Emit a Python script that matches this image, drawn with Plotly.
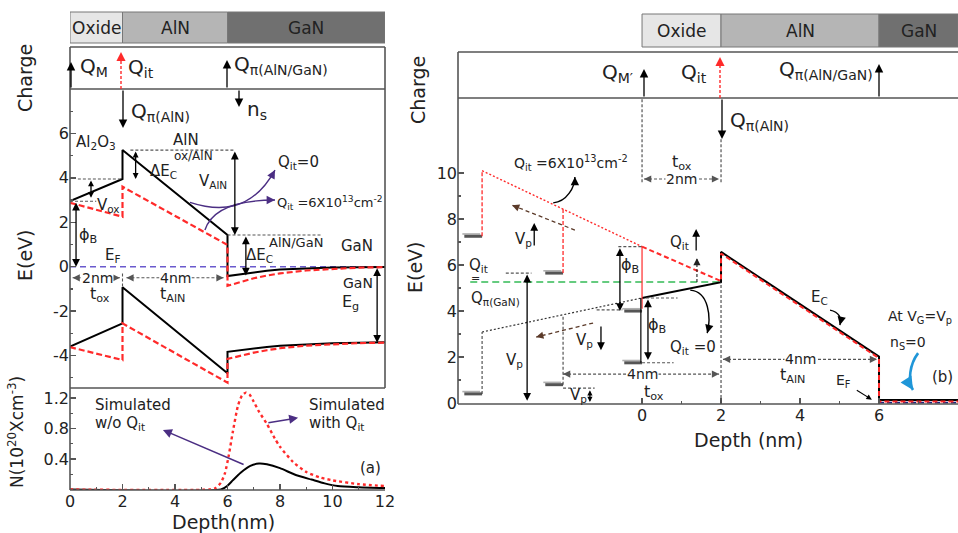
import math
import plotly.graph_objects as go

W, H = 958, 533
FONT = "DejaVu Sans"
TXT = "#222222"
RED = "#ff2a2a"
PURPLE = "#4b2e83"
GUIDE = "#555555"
BROWN = "#5b3a29"
BLUE = "#1f96d8"

# ---------------- panel (a): band diagram (depth nm, energy eV) ----------------
A_DEPTH = [0, 2, 2, 6, 6, 6.5, 7, 7.5, 8, 9, 10, 11, 12]
A_EC_NOQIT = [2.95, 3.95, 5.25, 1.43, -0.42, -0.33, -0.25, -0.18, -0.13, -0.07, -0.04, -0.02, -0.01]
A_EC_QIT = [2.88, 2.25, 3.60, 0.98, -0.86, -0.68, -0.52, -0.40, -0.30, -0.17, -0.09, -0.04, -0.02]
A_EV_NOQIT = [-3.60, -2.55, -0.92, -4.80, -3.83, -3.75, -3.67, -3.61, -3.56, -3.49, -3.45, -3.42, -3.40]
A_EV_QIT = [-3.62, -4.20, -2.55, -5.22, -4.15, -4.00, -3.87, -3.76, -3.67, -3.55, -3.48, -3.44, -3.42]
A_EF_DEPTH = [0, 12]
A_EF = [0, 0]

# ---------------- panel (a): electron density (1e20 cm^-3) ----------------
N_DEPTH_QIT = [0, 5.3, 5.55, 5.75, 5.9, 6.05, 6.2, 6.4, 6.55, 6.7, 6.85, 7.0, 7.2, 7.5, 7.8, 8.0,
               8.5, 9.0, 9.5, 10, 11, 12]
N_QIT = [0, 0, 0.02, 0.09, 0.21, 0.45, 0.75, 1.10, 1.23, 1.27, 1.24, 1.15, 1.02, 0.86, 0.67, 0.56,
         0.36, 0.23, 0.16, 0.12, 0.07, 0.045]
N_DEPTH_NOQIT = [0, 5.75, 6.0, 6.2, 6.5, 6.87, 7.2, 7.5, 8.0, 8.6, 9.2, 9.7, 10.2, 11, 12]
N_NOQIT = [0, 0, 0.05, 0.12, 0.22, 0.31, 0.34, 0.33, 0.28, 0.19, 0.13, 0.08, 0.045, 0.03, 0.02]

# ---------------- panel (b): band diagram at pinch-off ----------------
B_DEPTH = [0, 2, 2, 6, 6, 8]
B_EC_NOQIT = [4.57, 5.25, 6.57, 2.02, 0.13, 0.13]
B_EC_QIT = [6.80, 5.30, 6.50, 1.95, 0.07, 0.07]
B_GATE_DEPTH = [-4.05, 0]
B_EC_QIT_GATE = [10.10, 6.80]
B_EC_NOQIT_GATE = [3.09, 4.57]
B_QPI_DEPTH = [-4.35, 2]
B_QPI_LEVEL = [5.26, 5.26]
B_EF_DEPTH = [6, 8]
B_EF = [0.02, 0.02]
B_METAL_DEPTH = [-4.05, -4.05, -2.0, -2.0, 0.0, 0.0]
B_METAL_E = [7.25, 0.40, 5.65, 0.80, 4.00, 1.75]

LAYERS = ["Oxide", "AlN", "GaN"]
LAYER_EDGES_A = [0, 2, 6, 12]
LAYER_EDGES_B = [0, 2, 6, 8]
LAYER_COLORS = ["#e6e6e6", "#b5b5b5", "#707070"]

A = ("x", "y")
N = ("x2", "y2")
B = ("x3", "y3")
SC = {"x": 26.25, "y": 22.2, "x2": 26.25, "y2": 76.3, "x3": 39.5, "y3": 23.0}

shapes = []
annots = []


def PX(x):
    return x / W


def PY(y):
    return 1 - y / H


def pline(x0, y0, x1, y1, color=GUIDE, width=1.6, dash="solid"):
    shapes.append(dict(type="line", xref="paper", yref="paper", x0=PX(x0), y0=PY(y0),
                       x1=PX(x1), y1=PY(y1), line=dict(color=color, width=width, dash=dash)))


def dline(ax, x0, y0, x1, y1, color=GUIDE, width=1.1, dash="3px,2px"):
    shapes.append(dict(type="line", xref=ax[0], yref=ax[1], x0=x0, y0=y0, x1=x1, y1=y1,
                       line=dict(color=color, width=width, dash=dash)))


def darrow(ax, x0, y0, x1, y1, color="black", width=1.3, both=False, size=1.2):
    annots.append(dict(xref=ax[0], yref=ax[1], axref=ax[0], ayref=ax[1], x=x1, y=y1, ax=x0, ay=y0,
                       showarrow=True, arrowhead=2, arrowsize=size, arrowwidth=width,
                       arrowcolor=color, arrowside="end+start" if both else "end",
                       startarrowhead=2, startarrowsize=size, text="", standoff=0))


def head(ax, x, y, dx, dy, color="black", size=1.2, width=1.2, plen=7):
    ux, uy = dx * SC[ax[0]], -dy * SC[ax[1]]
    L = math.hypot(ux, uy) or 1
    annots.append(dict(xref=ax[0], yref=ax[1], x=x, y=y, axref="pixel", ayref="pixel",
                       ax=-ux / L * plen, ay=-uy / L * plen, showarrow=True, arrowhead=2,
                       arrowsize=size, arrowwidth=width, arrowcolor=color, text="", standoff=0))


def dashed_arrow(ax, x0, y0, x1, y1, color=GUIDE, both=False, width=1.1, dash="3px,2px"):
    dline(ax, x0, y0, x1, y1, color, width, dash)
    head(ax, x1, y1, x1 - x0, y1 - y0, color)
    if both:
        head(ax, x0, y0, x0 - x1, y0 - y1, color)


def curve(ax, p0, c1, c2, p1, color, width=1.4, size=1.2):
    shapes.append(dict(type="path", xref=ax[0], yref=ax[1],
                       path=f"M {p0[0]},{p0[1]} C {c1[0]},{c1[1]} {c2[0]},{c2[1]} {p1[0]},{p1[1]}",
                       line=dict(color=color, width=width)))
    head(ax, p1[0], p1[1], p1[0] - c2[0], p1[1] - c2[1], color, size=size, width=width)


def txt(ax, x, y, s, size=15, color=TXT, bg=None, xanchor="center", angle=0):
    d = dict(xref=ax[0], yref=ax[1], x=x, y=y, text=s, showarrow=False,
             font=dict(family=FONT, size=size, color=color), xanchor=xanchor,
             yanchor="middle", textangle=angle)
    if bg:
        d["bgcolor"] = bg
        d["borderpad"] = 0
    annots.append(d)


def ptxt(x, y, s, size=15, angle=0, xanchor="center"):
    txt(("paper", "paper"), PX(x), PY(y), s, size=size, angle=angle, xanchor=xanchor)


def parrow(x, y0, y1, color="black", dashed=False):
    # vertical arrow in page pixels from y0 (tail) to y1 (tip)
    if dashed:
        pline(x, y0, x, y1 + (4 if y1 < y0 else -4), color=color, width=1.4, dash="3px,2px")
        annots.append(dict(xref="paper", yref="paper", x=PX(x), y=PY(y1), axref="pixel",
                           ayref="pixel", ax=0, ay=8 if y1 < y0 else -8, showarrow=True,
                           arrowhead=2, arrowsize=1.3, arrowwidth=1.4, arrowcolor=color,
                           text="", standoff=0))
    else:
        annots.append(dict(xref="paper", yref="paper", x=PX(x), y=PY(y1), axref="pixel",
                           ayref="pixel", ax=0, ay=y0 - y1, showarrow=True, arrowhead=2,
                           arrowsize=1.3, arrowwidth=1.3, arrowcolor=color, text="", standoff=0))


fig = go.Figure()

# ---------- traces panel (a) ----------
fig.add_trace(go.Scatter(x=A_EF_DEPTH, y=A_EF, xaxis="x", yaxis="y", mode="lines",
                         line=dict(color="#6a5acd", width=1.5, dash="6px,4px")))
fig.add_trace(go.Scatter(x=A_DEPTH, y=A_EC_NOQIT, xaxis="x", yaxis="y", mode="lines",
                         line=dict(color="black", width=2)))
fig.add_trace(go.Scatter(x=A_DEPTH, y=A_EV_NOQIT, xaxis="x", yaxis="y", mode="lines",
                         line=dict(color="black", width=2)))
fig.add_trace(go.Scatter(x=A_DEPTH, y=A_EC_QIT, xaxis="x", yaxis="y", mode="lines",
                         line=dict(color=RED, width=2.2, dash="6px,3px")))
fig.add_trace(go.Scatter(x=A_DEPTH, y=A_EV_QIT, xaxis="x", yaxis="y", mode="lines",
                         line=dict(color=RED, width=2.2, dash="6px,3px")))
fig.add_trace(go.Scatter(x=N_DEPTH_NOQIT, y=N_NOQIT, xaxis="x2", yaxis="y2", mode="lines",
                         line=dict(color="black", width=2, shape="spline", smoothing=0.6)))
fig.add_trace(go.Scatter(x=N_DEPTH_QIT, y=N_QIT, xaxis="x2", yaxis="y2", mode="lines",
                         line=dict(color=RED, width=2.4, dash="dot", shape="spline", smoothing=0.6)))

# ---------- traces panel (b) ----------
fig.add_trace(go.Scatter(x=B_QPI_DEPTH, y=B_QPI_LEVEL, xaxis="x3", yaxis="y3", mode="lines",
                         line=dict(color="#33bb55", width=1.5, dash="7px,4px")))
fig.add_trace(go.Scatter(x=B_GATE_DEPTH, y=B_EC_QIT_GATE, xaxis="x3", yaxis="y3", mode="lines",
                         line=dict(color=RED, width=1.4, dash="2px,2px")))
fig.add_trace(go.Scatter(x=B_GATE_DEPTH, y=B_EC_NOQIT_GATE, xaxis="x3", yaxis="y3", mode="lines",
                         line=dict(color="#333333", width=1.2, dash="2px,2px")))
fig.add_trace(go.Scatter(x=B_EF_DEPTH, y=B_EF, xaxis="x3", yaxis="y3", mode="lines",
                         line=dict(color="#1a237e", width=1.6, dash="5px,3px")))
fig.add_trace(go.Scatter(x=B_DEPTH, y=B_EC_NOQIT, xaxis="x3", yaxis="y3", mode="lines",
                         line=dict(color="black", width=2)))
fig.add_trace(go.Scatter(x=B_DEPTH, y=B_EC_QIT, xaxis="x3", yaxis="y3", mode="lines",
                         line=dict(color=RED, width=2, dash="5px,3px")))

# ---------- layer bars ----------
for i, name in enumerate(LAYERS):
    shapes.append(dict(type="rect", xref="x", yref="paper", x0=LAYER_EDGES_A[i],
                       x1=LAYER_EDGES_A[i + 1], y0=PY(43), y1=PY(12),
                       fillcolor=LAYER_COLORS[i], line=dict(color="#777", width=1)))
    txt(("x", "paper"), (LAYER_EDGES_A[i] + LAYER_EDGES_A[i + 1]) / 2, PY(28), name, 17)
    shapes.append(dict(type="rect", xref="x3", yref="paper", x0=LAYER_EDGES_B[i],
                       x1=LAYER_EDGES_B[i + 1], y0=PY(47), y1=PY(14),
                       fillcolor=LAYER_COLORS[i], line=dict(color="#777", width=1)))
    txt(("x3", "paper"), (LAYER_EDGES_B[i] + LAYER_EDGES_B[i + 1]) / 2, PY(31), name, 17)

# ---------- frames ----------
pline(70, 47, 385, 47)
pline(70, 89, 385, 89)
pline(70, 388, 385, 388)
pline(70, 490, 385, 490)
pline(70, 47, 70, 490)
pline(385, 47, 385, 388)
pline(458, 52, 958, 52)
pline(458, 98, 958, 98)
pline(458, 404, 958, 404)
pline(458, 52, 458, 404)

# ---------- charge rows ----------
parrow(71, 89, 62)
parrow(121, 89, 52, color=RED, dashed=True)
parrow(227, 89, 60)
parrow(123, 89, 128)
parrow(239, 89, 107)
ptxt(94, 67, "Q<sub>M</sub>", 20)
ptxt(141, 68, "Q<sub>it</sub>", 20)
ptxt(281, 65, "Q<sub>π(AlN/GaN)</sub>", 20)
ptxt(160, 112, "Q<sub>π(AlN)</sub>", 20)
ptxt(257, 110, "n<sub>s</sub>", 20)

parrow(644, 98, 69)
parrow(720, 98, 57, color=RED, dashed=True)
parrow(879, 98, 64)
parrow(722, 98, 139)
ptxt(617, 73, "Q<sub>M′</sub>", 20)
ptxt(694, 73, "Q<sub>it</sub>", 20)
ptxt(875, 70, "Q<sub>π(AlN/GaN)</sub>", 20, xanchor="right")
ptxt(728, 121, "Q<sub>π(AlN)</sub>", 20, xanchor="left")

# ---------- axis titles ----------
ptxt(25, 78, "Charge", 19, angle=-90)
ptxt(25, 255, "E(eV)", 19, angle=-90)
ptxt(16, 432, "N(10<sup>20</sup>Xcm<sup>-3</sup>)", 17, angle=-90)
ptxt(223, 522, "Depth(nm)", 19)
ptxt(418, 90, "Charge", 19, angle=-90)
ptxt(415, 267, "E(eV)", 19, angle=-90)
ptxt(748, 440, "Depth (nm)", 19)

# ---------- panel (a) annotations ----------
dline(A, 2.3, 5.25, 6.3, 5.25)
dline(A, 0.3, 3.95, 2.0, 3.95)
dline(A, 0.0, 2.95, 1.0, 2.95)
dline(A, 6.0, 1.43, 9.6, 1.43)
dline(A, 2.0, -0.3, 2.0, -0.95)
darrow(A, 0.23, 2.95, 0.23, 0.0, both=True)
darrow(A, 0.8, 3.95, 0.8, 3.1, both=True, size=0.9)
darrow(A, 2.5, 5.25, 2.5, 3.95, both=True, size=0.9)
darrow(A, 6.28, 5.25, 6.28, 1.43, both=True)
darrow(A, 6.7, 1.43, 6.7, -0.4, both=True)
darrow(A, 11.7, 0.0, 11.7, -3.42, both=True)
dashed_arrow(A, 0.1, -0.5, 1.9, -0.5, both=True)
dashed_arrow(A, 2.15, -0.5, 5.85, -0.5, both=True)
curve(A, (4.57, 2.9), (5.6, 2.5), (6.9, 2.4), (7.81, 4.35), PURPLE)
curve(A, (5.14, 1.65), (5.4, 2.6), (6.3, 3.0), (7.81, 3.0), PURPLE)
txt(A, 1.0, 5.6, "Al<sub>2</sub>O<sub>3</sub>", 15)
txt(A, 4.4, 5.72, "AlN", 15)
txt(A, 4.7, 4.98, "ox/AlN", 12)
txt(A, 3.55, 4.3, "ΔE<sub>C</sub>", 15)
txt(A, 5.45, 3.85, "V<sub>AlN</sub>", 15)
txt(A, 8.72, 4.67, "Q<sub>it</sub>=0", 15)
txt(A, 9.9, 2.85, "Q<sub>it</sub> =6X10<sup>13</sup>cm<sup>-2</sup>", 13)
txt(A, 1.45, 2.75, "V<sub>ox</sub>", 15)
txt(A, 0.7, 1.4, "ϕ<sub>B</sub>", 16)
txt(A, 1.65, 0.5, "E<sub>F</sub>", 15)
txt(A, 7.2, 0.5, "ΔE<sub>C</sub>", 15)
txt(A, 8.6, 1.07, "AlN/GaN", 13)
txt(A, 10.95, 0.95, "GaN", 15)
txt(A, 1.03, -0.5, "2nm", 14, bg="white")
txt(A, 1.15, -1.25, "t<sub>ox</sub>", 16)
txt(A, 4.0, -0.5, "4nm", 14, bg="white")
txt(A, 3.92, -1.25, "t<sub>AlN</sub>", 16)
txt(A, 10.97, -0.74, "GaN", 14)
txt(A, 10.67, -1.63, "E<sub>g</sub>", 16)

# ---------- N panel annotations ----------
darrow(N, 6.67, 0.32, 3.54, 0.78, color=PURPLE, width=1.5)
darrow(N, 7.5, 0.87, 8.69, 0.94, color=PURPLE, width=1.5)
txt(N, 0.88, 1.11, "Simulated", 15, xanchor="left")
txt(N, 0.88, 0.86, "w/o Q<sub>it</sub>", 15, xanchor="left")
txt(N, 9.03, 1.11, "Simulated", 15, xanchor="left")
txt(N, 9.03, 0.86, "with Q<sub>it</sub>", 15, xanchor="left")
txt(N, 11.43, 0.28, "(a)", 15)

# ---------- panel (b) annotations ----------
for xe, e in zip(B_METAL_DEPTH, B_METAL_E):
    dline(B, xe - 0.5, e + 0.1, xe - 0.05, e + 0.1, color="#b0b0b0", width=1.6, dash="solid")
    dline(B, xe - 0.45, e, xe, e, color="#555555", width=3, dash="solid")
dline(B, -4.05, 7.25, -4.05, 10.1, color=RED, width=1.3, dash="4px,2px")
dline(B, -2.0, 5.65, -2.0, 8.43, color=RED, width=1.3, dash="4px,2px")
dline(B, -4.05, 0.4, -4.05, 3.09, color="#444", width=1.1)
dline(B, -2.0, 0.8, -2.0, 3.84, color="#444", width=1.1)
dline(B, 0.0, 4.1, 0.0, 6.8, color=RED, width=1.2, dash="solid")
dline(B, -0.03, 1.75, -0.03, 4.57, color="black", width=1.2, dash="solid")
dline(B, 2.0, 0.0, 2.0, 5.25, color="#444", width=1.1)
dline(B, 0.0, 9.6, 0.0, 13.26, color="#444", width=1.1)
dline(B, 2.0, 9.6, 2.0, 11.48, color="#444", width=1.1)
dline(B, -0.6, 6.8, 0.0, 6.8)
dline(B, -1.15, 4.05, -0.5, 4.05)
dline(B, 0.1, 4.57, 0.9, 4.57)
dline(B, 0.0, 1.75, 0.8, 1.75)
dline(B, -3.45, 5.65, -2.8, 5.65)
dline(B, -2.0, 0.65, -1.2, 0.65)
dashed_arrow(B, -2.0, 1.26, 1.95, 1.26, both=True)
dashed_arrow(B, 0.05, 9.74, 1.95, 9.74, both=True)
dashed_arrow(B, 2.05, 1.9, 5.95, 1.9, both=True)
dashed_arrow(B, -1.7, 7.52, -3.29, 8.6, color=BROWN, width=1.3, dash="4px,3px")
dashed_arrow(B, -1.24, 3.48, -2.68, 2.87, color=BROWN, width=1.3, dash="4px,3px")
dashed_arrow(B, 1.39, 5.26, 1.39, 6.3, color="#222")
darrow(B, -2.91, 5.65, -2.91, 0.1, both=True)
darrow(B, -2.73, 6.78, -2.73, 7.83)
darrow(B, -1.04, 3.39, -1.04, 2.3)
darrow(B, -0.56, 6.8, -0.56, 4.0, both=True)
darrow(B, 0.15, 4.57, 0.15, 1.87, both=True)
darrow(B, 1.37, 6.57, 1.37, 7.57)
darrow(B, -1.32, 0.62, -1.32, 0.05, both=True, size=0.8)
darrow(B, 5.4, 0.6, 5.82, 0.15, width=1.1, size=1.0)
curve(B, (-2.25, 8.7), (-1.9, 8.75), (-1.7, 9.4), (-1.7, 9.83), "black")
curve(B, (1.22, 4.91), (1.7, 4.85), (1.75, 3.7), (1.65, 3.04), "black")
curve(B, (4.76, 4.04), (5.0, 3.95), (5.05, 3.7), (5.01, 3.39), "black")
curve(B, (6.99, 2.17), (6.78, 1.7), (6.72, 0.95), (6.86, 0.57), BLUE, width=2.6, size=1.0)
txt(B, -1.8, 10.45, "Q<sub>it</sub> =6X10<sup>13</sup>cm<sup>-2</sup>", 14)
txt(B, -3.0, 7.09, "V<sub>p</sub>", 15)
txt(B, -0.3, 6.0, "ϕ<sub>B</sub>", 16)
txt(B, 0.96, 7.0, "Q<sub>it</sub>", 15)
txt(B, -4.15, 6.0, "Q<sub>it</sub>", 15)
txt(B, -4.22, 5.42, "=", 11)
txt(B, -3.72, 4.55, "Q<sub>π(GaN)</sub>", 15)
txt(B, -3.24, 1.87, "V<sub>p</sub>", 15)
txt(B, -1.45, 2.74, "V<sub>p</sub>", 15)
txt(B, 0.38, 3.39, "ϕ<sub>B</sub>", 16)
txt(B, 1.29, 2.43, "Q<sub>it</sub> =0", 15)
txt(B, -1.62, 0.35, "V<sub>p</sub>", 15)
txt(B, 0.0, 1.26, "4nm", 14, bg="white")
txt(B, 0.3, 0.45, "t<sub>ox</sub>", 16)
txt(B, 1.0, 10.45, "t<sub>ox</sub>", 16)
txt(B, 1.0, 9.74, "2nm", 14, bg="white")
txt(B, 4.0, 1.9, "4nm", 14, bg="white")
txt(B, 3.82, 1.2, "t<sub>AlN</sub>", 16)
txt(B, 4.5, 4.6, "E<sub>C</sub>", 15)
txt(B, 7.04, 3.74, "At V<sub>G</sub>=V<sub>p</sub>", 14)
txt(B, 6.73, 2.6, "n<sub>S</sub>=0", 14)
txt(B, 7.62, 1.13, "(b)", 15)
txt(B, 5.1, 0.95, "E<sub>F</sub>", 14)

tick = dict(ticks="inside", ticklen=6, tickwidth=1.4, tickcolor=GUIDE, showgrid=False,
            zeroline=False, showline=False, automargin=False,
            tickfont=dict(family=FONT, size=16, color=TXT))
minor = dict(ticks="inside", ticklen=3, tickwidth=1.2, tickcolor=GUIDE, showgrid=False)

fig.update_layout(
    template="none",
    width=W, height=H, margin=dict(l=0, r=0, t=0, b=0),
    paper_bgcolor="white", plot_bgcolor="rgba(0,0,0,0)", showlegend=False,
    font=dict(family=FONT, color=TXT),
    xaxis=dict(domain=[70 / W, 385 / W], range=[0, 12], anchor="y", visible=False, automargin=False),
    yaxis=dict(domain=[PY(388), PY(89)], range=[-5.46, 8.0], anchor="x",
               tickvals=[-4, -2, 0, 2, 4, 6], ticktext=["-4", "-2", "0", "2", "4", "6"],
               minor=dict(tickvals=[-5, -3, -1, 1, 3, 5, 7], **minor), **tick),
    xaxis2=dict(domain=[70 / W, 385 / W], range=[0, 12], anchor="y2",
                tickvals=[0, 2, 4, 6, 8, 10, 12], minor=dict(tickvals=[1, 3, 5, 7, 9, 11], **minor),
                **tick),
    yaxis2=dict(domain=[PY(490), PY(388)], range=[-0.0066, 1.33], anchor="x2",
                tickvals=[0.4, 0.8, 1.2], ticktext=["0.4", "0.8", "1.2"],
                minor=dict(tickvals=[0.2, 0.6, 1.0], **minor), **tick),
    xaxis3=dict(domain=[458 / W, 1.0], range=[-4.66, 8.0], anchor="y3",
                tickvals=[0, 2, 4, 6, 8], minor=dict(tickvals=[1, 3, 5, 7], **minor), **tick),
    yaxis3=dict(domain=[PY(404), PY(98)], range=[-0.04, 13.26], anchor="x3",
                tickvals=[0, 2, 4, 6, 8, 10], minor=dict(tickvals=[1, 3, 5, 7, 9], **minor), **tick),
    shapes=shapes,
    annotations=annots,
)

fig.write_html("out.html", config={"displayModeBar": False, "staticPlot": True},
               post_script="document.body.style.margin='0px';document.body.style.overflow='hidden';")
